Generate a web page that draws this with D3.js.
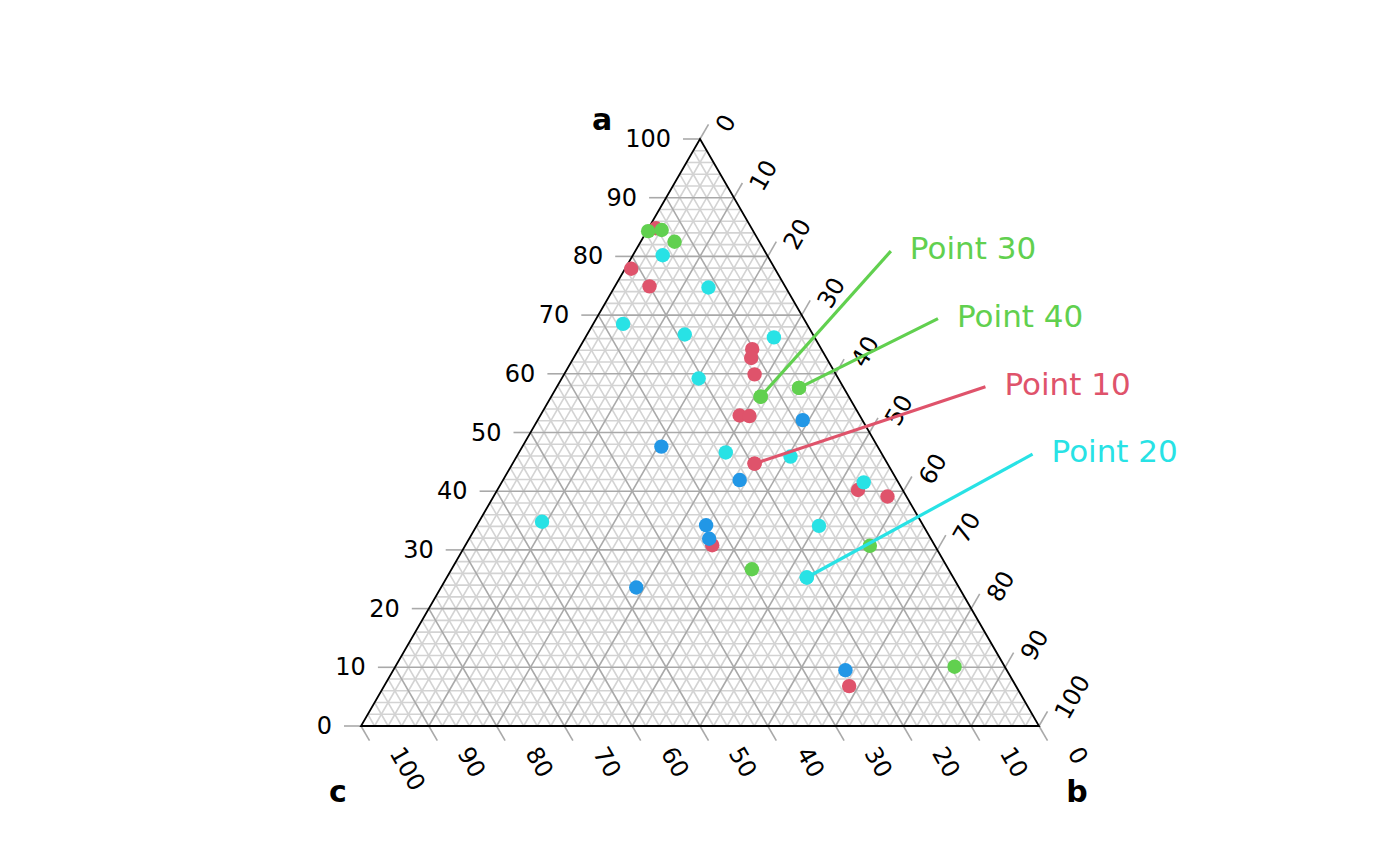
<!DOCTYPE html>
<html>
<head>
<meta charset="utf-8">
<script src="https://cdn.jsdelivr.net/npm/d3@7"></script>
<style>
  body { margin: 0; background: #fff; }
  text { font-family: "DejaVu Sans", sans-serif; }
</style>
</head>
<body>
<script>
var width = 1400, height = 865;

// ternary values (a, b, c), per colour group
var redA = [84.8, 77.9, 74.9, 64.2, 62.7, 59.9, 52.9, 52.8, 44.7, 40.2, 39.1, 30.8, 6.8];
var redB = [1.1, 0.9, 5.1, 25.6, 26.2, 28.1, 29.4, 30.9, 35.7, 53.2, 58.1, 36.4, 68.6];
var greenA = [84.3, 84.5, 82.5, 56.1, 57.6, 26.7, 30.7, 10.1];
var greenB = [0.2, 2.1, 5.0, 30.9, 35.8, 44.3, 59.7, 82.5];
var cyanA = [80.2, 74.7, 68.5, 66.7, 66.2, 59.2, 46.6, 45.9, 34.8, 25.3, 41.5, 34.1];
var cyanB = [4.4, 13.9, 4.4, 14.4, 27.8, 20.2, 30.5, 40.4, 9.3, 53.1, 53.4, 50.5];
var blueA = [52.1, 47.6, 41.9, 34.2, 31.9, 23.6, 9.5];
var blueB = [39.1, 20.5, 34.9, 33.8, 35.4, 28.8, 66.7];

// labelled points: text, colour group, index in group, label end (a, b)
var labelText = ["Point 30", "Point 40", "Point 10", "Point 20"];
var labelGroup = ["green", "green", "red", "cyan"];
var labelIndex = [3, 4, 8, 9];
var labelEndA = [80.9, 69.4, 57.8, 46.3];
var labelEndB = [37.7, 50.4, 63.2, 75.9];

var ticks = [0, 10, 20, 30, 40, 50, 60, 70, 80, 90, 100];
var axisNames = ["a", "b", "c"];

var colours = {red: "#DF536B", green: "#61D04F", cyan: "#28E2E5", blue: "#2297E6"};
var groups = {
  red: d3.zip(redA, redB),
  green: d3.zip(greenA, greenB),
  cyan: d3.zip(cyanA, cyanB),
  blue: d3.zip(blueA, blueB)
};

var xs = d3.scaleLinear().domain([0, 100]).range([361, 1039]);
var ys = d3.scaleLinear().domain([0, 100]).range([726, 139]);
function px(a, b) { return [xs(b + a / 2), ys(a)]; }

var svg = d3.select("body").append("svg")
  .attr("width", width)
  .attr("height", height);

// grid
var gridG = svg.append("g").attr("fill", "none");
function gridLines(vals, col, w) {
  vals.forEach(function(v) {
    var segs = [
      [px(v, 0), px(v, 100 - v)],
      [px(100 - v, v), px(0, v)],
      [px(100 - v, 0), px(0, 100 - v)]
    ];
    segs.forEach(function(s) {
      gridG.append("line")
        .attr("x1", s[0][0]).attr("y1", s[0][1])
        .attr("x2", s[1][0]).attr("y2", s[1][1])
        .attr("stroke", col).attr("stroke-width", w);
    });
  });
}
var minor = d3.range(2, 100, 2).filter(function(v) { return v % 10 !== 0; });
gridLines(minor, "#D3D3D3", 1.6);
gridLines(ticks.slice(1, -1), "#A9A9A9", 1.6);

// ticks and tick labels
var tickLen = 17;
var axG = svg.append("g");
ticks.forEach(function(v) {
  // a axis, left edge
  var p = px(v, 0);
  axG.append("line").attr("x1", p[0]).attr("y1", p[1])
    .attr("x2", p[0] - tickLen).attr("y2", p[1])
    .attr("stroke", "#A9A9A9").attr("stroke-width", 1.6);
  axG.append("text").attr("x", p[0] - tickLen - 12).attr("y", p[1])
    .attr("text-anchor", "end").attr("dominant-baseline", "central")
    .attr("font-size", 24).text(v);

  // b axis, right edge
  p = px(100 - v, v);
  axG.append("line").attr("x1", p[0]).attr("y1", p[1])
    .attr("x2", p[0] + tickLen * 0.5).attr("y2", p[1] - tickLen * 0.866)
    .attr("stroke", "#A9A9A9").attr("stroke-width", 1.6);
  axG.append("text")
    .attr("transform", "translate(" + (p[0] + 22) + "," + (p[1] - 9) + ") rotate(-60)")
    .attr("text-anchor", "start").attr("dominant-baseline", "central")
    .attr("font-size", 24).text(v);

  // c axis, bottom edge
  p = px(0, 100 - v);
  axG.append("line").attr("x1", p[0]).attr("y1", p[1])
    .attr("x2", p[0] + tickLen * 0.5).attr("y2", p[1] + tickLen * 0.866)
    .attr("stroke", "#A9A9A9").attr("stroke-width", 1.6);
  axG.append("text")
    .attr("transform", "translate(" + (p[0] + 35) + "," + (p[1] + 23) + ") rotate(60)")
    .attr("text-anchor", "start").attr("dominant-baseline", "central")
    .attr("font-size", 24).text(v);
});

// triangle border
var corners = [px(100, 0), px(0, 100), px(0, 0)];
svg.append("path")
  .attr("d", d3.line()(corners) + "Z")
  .attr("fill", "none").attr("stroke", "#000").attr("stroke-width", 1.8);

// axis titles
var titlePos = [[px(100, 0)[0] - 98, px(100, 0)[1] - 9],
                [px(0, 100)[0] + 38, px(0, 100)[1] + 76],
                [px(0, 0)[0] - 23, px(0, 0)[1] + 76]];
axisNames.forEach(function(n, i) {
  svg.append("text").attr("x", titlePos[i][0]).attr("y", titlePos[i][1])
    .attr("text-anchor", "middle").attr("font-size", 30)
    .attr("font-weight", "bold").text(n);
});

// points
["red", "green", "cyan", "blue"].forEach(function(g) {
  svg.append("g").selectAll("circle")
    .data(groups[g])
    .join("circle")
    .attr("cx", function(d) { return px(d[0], d[1])[0]; })
    .attr("cy", function(d) { return px(d[0], d[1])[1]; })
    .attr("r", 7.2)
    .attr("fill", colours[g]);
});

// label lines and text
labelText.forEach(function(t, i) {
  var g = labelGroup[i];
  var d = groups[g][labelIndex[i]];
  var s = px(d[0], d[1]);
  var e = px(labelEndA[i], labelEndB[i]);
  svg.append("line")
    .attr("x1", s[0]).attr("y1", s[1]).attr("x2", e[0]).attr("y2", e[1])
    .attr("stroke", colours[g]).attr("stroke-width", 3.2);
  svg.append("circle").attr("cx", s[0]).attr("cy", s[1]).attr("r", 7.2)
    .attr("fill", colours[g]);
  svg.append("text").attr("x", e[0] + 19).attr("y", e[1] - 3)
    .attr("dominant-baseline", "central")
    .attr("font-size", 31).attr("fill", colours[g]).text(t);
});
</script>
</body>
</html>
